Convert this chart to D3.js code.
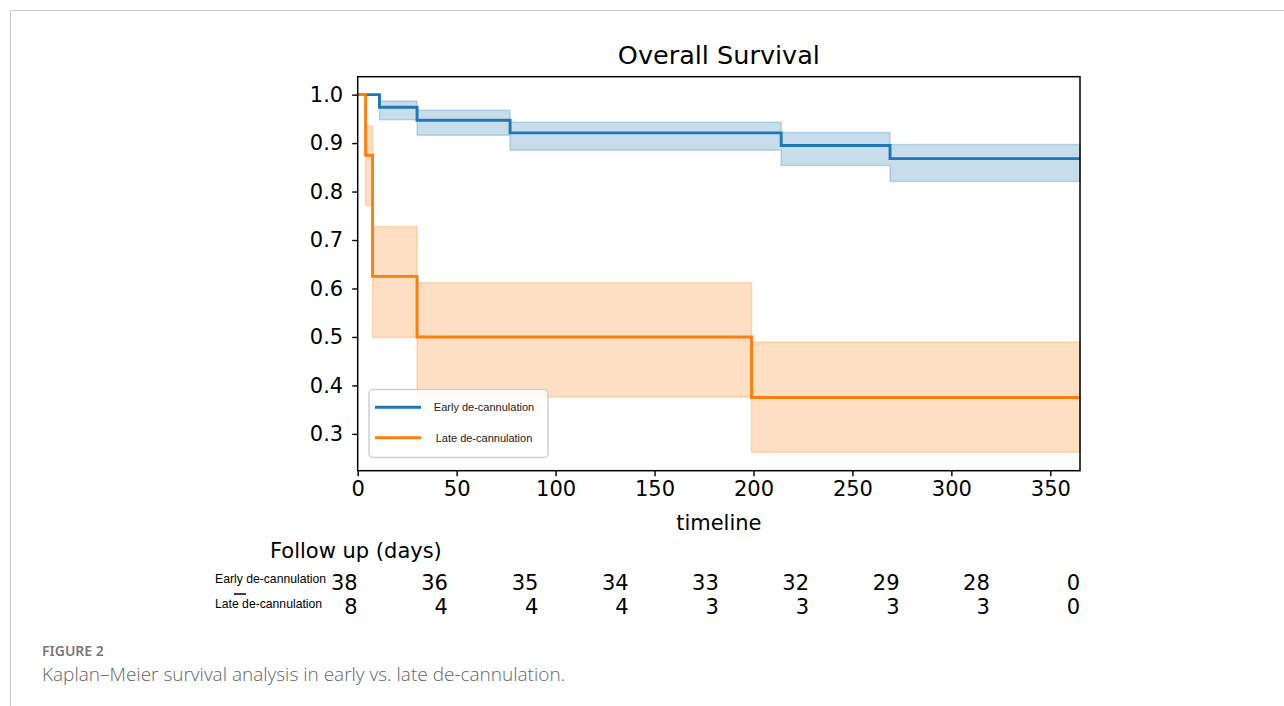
<!DOCTYPE html>
<html>
<head>
<meta charset="utf-8">
<script src="https://cdn.jsdelivr.net/npm/d3@7"></script>
<style>
  body { margin: 0; background: #fff; }
  svg { display: block; }
</style>
</head>
<body>
<script>
// survival curves (days, survival prob, CI)
const earlyTimes = [0, 11, 30, 77, 214, 269];
const earlySurv  = [1.0, 0.974, 0.947, 0.921, 0.895, 0.868];
const earlyUpper = [1.0, 0.987, 0.968, 0.943, 0.922, 0.897];
const earlyLower = [1.0, 0.948, 0.916, 0.885, 0.854, 0.821];

const lateTimes = [0, 4, 7.5, 30, 199];
const lateSurv  = [1.0, 0.875, 0.625, 0.5, 0.375];
const lateUpper = [1.0, 0.935, 0.728, 0.612, 0.489];
const lateLower = [1.0, 0.771, 0.499, 0.376, 0.262];

const seriesNames = ["Early de-cannulation", "Late de-cannulation"];
const xTicks = [0, 50, 100, 150, 200, 250, 300, 350];
const yTicks = [0.3, 0.4, 0.5, 0.6, 0.7, 0.8, 0.9, 1.0];

// at risk table
const riskTimes = [0, 45.6, 91.3, 136.9, 182.5, 228.1, 273.8, 319.4, 365];
const earlyAtRisk = [38, 36, 35, 34, 33, 32, 29, 28, 0];
const lateAtRisk  = [8, 4, 4, 4, 3, 3, 3, 3, 0];

const endTime = 365;
const blue = "#1f77b4", orange = "#ff7f0e";

const svg = d3.select('body').append('svg')
    .attr('width', 1284)
    .attr('height', 706);

// figure frame
svg.append('path')
    .attr('d', 'M10.5,706 V10.5 H1284')
    .attr('fill', 'none')
    .attr('stroke', '#c8c8c8')
    .attr('stroke-width', 1);

const plotL = 357.7, plotR = 1080, plotT = 76.7, plotB = 470.7;

const x = d3.scaleLinear().domain([0, endTime]).range([plotL, plotR]);
const y = d3.scaleLinear().domain([0.224, 1.037]).range([plotB, plotT]);

function rows(times, surv, lo, hi) {
    const r = times.map((t, i) => ({t: t, s: surv[i], lo: lo[i], hi: hi[i]}));
    const last = r[r.length - 1];
    r.push({t: endTime, s: last.s, lo: last.lo, hi: last.hi});
    return r;
}

const series = [
    {name: seriesNames[0], color: blue, data: rows(earlyTimes, earlySurv, earlyLower, earlyUpper)},
    {name: seriesNames[1], color: orange, data: rows(lateTimes, lateSurv, lateLower, lateUpper)}
];

const area = d3.area()
    .x(d => x(d.t))
    .y0(d => y(d.lo))
    .y1(d => y(d.hi))
    .curve(d3.curveStepAfter);

const line = d3.line()
    .x(d => x(d.t))
    .y(d => y(d.s))
    .curve(d3.curveStepAfter);

series.forEach(function(s) {
    svg.append('path')
        .attr('d', area(s.data))
        .attr('fill', s.color)
        .attr('fill-opacity', 0.25)
        .attr('stroke', s.color)
        .attr('stroke-opacity', 0.25)
        .attr('stroke-width', 1.5);
    svg.append('path')
        .attr('d', line(s.data))
        .attr('fill', 'none')
        .attr('stroke', s.color)
        .attr('stroke-width', 2.9);
});

// axes
const tickFont = 'DejaVu Sans';
const xAxis = svg.append('g')
    .attr('transform', `translate(0,${plotB})`)
    .call(d3.axisBottom(x).tickValues(xTicks).tickSize(5.5).tickPadding(5).tickFormat(d3.format('d')));
const yAxis = svg.append('g')
    .attr('transform', `translate(${plotL},0)`)
    .call(d3.axisLeft(y).tickValues(yTicks).tickSize(5.5).tickPadding(9).tickFormat(d3.format('.1f')));

[xAxis, yAxis].forEach(function(g) {
    g.select('.domain').remove();
    g.selectAll('line').attr('stroke', '#000').attr('stroke-width', 1.4);
    g.selectAll('text')
        .attr('font-family', tickFont)
        .attr('font-size', 21)
        .attr('fill', '#000');
});

svg.append('rect')
    .attr('x', plotL).attr('y', plotT)
    .attr('width', plotR - plotL).attr('height', plotB - plotT)
    .attr('fill', 'none')
    .attr('stroke', '#000')
    .attr('stroke-width', 1.5);

svg.append('text')
    .attr('x', (plotL + plotR) / 2).attr('y', 63.5)
    .attr('text-anchor', 'middle')
    .attr('font-family', tickFont)
    .attr('font-size', 25.5)
    .text('Overall Survival');

svg.append('text')
    .attr('x', (plotL + plotR) / 2).attr('y', 530)
    .attr('text-anchor', 'middle')
    .attr('font-family', tickFont)
    .attr('font-size', 21)
    .text('timeline');

// legend
const legend = svg.append('g');
legend.append('rect')
    .attr('x', 369).attr('y', 389.5)
    .attr('width', 179).attr('height', 68)
    .attr('rx', 4)
    .attr('fill', '#fff')
    .attr('fill-opacity', 0.85)
    .attr('stroke', '#d0d0d0')
    .attr('stroke-width', 1.5);

series.forEach(function(s, i) {
    const ly = 407.3 + i * 30.5;
    legend.append('line')
        .attr('x1', 375).attr('x2', 421)
        .attr('y1', ly).attr('y2', ly)
        .attr('stroke', s.color)
        .attr('stroke-width', 2.9);
    legend.append('text')
        .attr('x', 484).attr('y', ly + 4)
        .attr('text-anchor', 'middle')
        .attr('font-family', 'Liberation Sans')
        .attr('font-size', 11)
        .attr('fill', '#222')
        .text(s.name);
});

// at risk counts
svg.append('text')
    .attr('x', 270).attr('y', 558)
    .attr('font-family', tickFont)
    .attr('font-size', 21)
    .text('Follow up (days)');

const riskRows = [earlyAtRisk, lateAtRisk];
riskRows.forEach(function(counts, r) {
    const by = 590 + r * 24;
    svg.append('text')
        .attr('x', 215).attr('y', by - 7 + r * 1)
        .attr('font-family', 'Liberation Sans')
        .attr('font-size', 12.2)
        .text(seriesNames[r]);
    svg.selectAll('.risk' + r)
        .data(counts)
        .enter()
        .append('text')
        .attr('class', 'risk' + r)
        .attr('x', (d, i) => x(riskTimes[i]))
        .attr('y', by)
        .attr('text-anchor', 'end')
        .attr('font-family', tickFont)
        .attr('font-size', 21)
        .text(d => d);
});

// stray dash under the row labels
svg.append('line')
    .attr('x1', 234).attr('x2', 246)
    .attr('y1', 594).attr('y2', 594)
    .attr('stroke', '#000')
    .attr('stroke-width', 1.5);

// caption
svg.append('text')
    .attr('x', 42).attr('y', 656)
    .attr('font-family', 'Noto Sans')
    .attr('font-size', 14)
    .attr('font-weight', 600)
    .attr('fill', '#777')
    .text('FIGURE 2');

svg.append('text')
    .attr('x', 42).attr('y', 681)
    .attr('font-family', 'Open Sans')
    .attr('font-size', 19)
    .attr('font-weight', 300)
    .attr('fill', '#666')
    .text('Kaplan\u2013Meier survival analysis in early vs. late de-cannulation.');
</script>
</body>
</html>
